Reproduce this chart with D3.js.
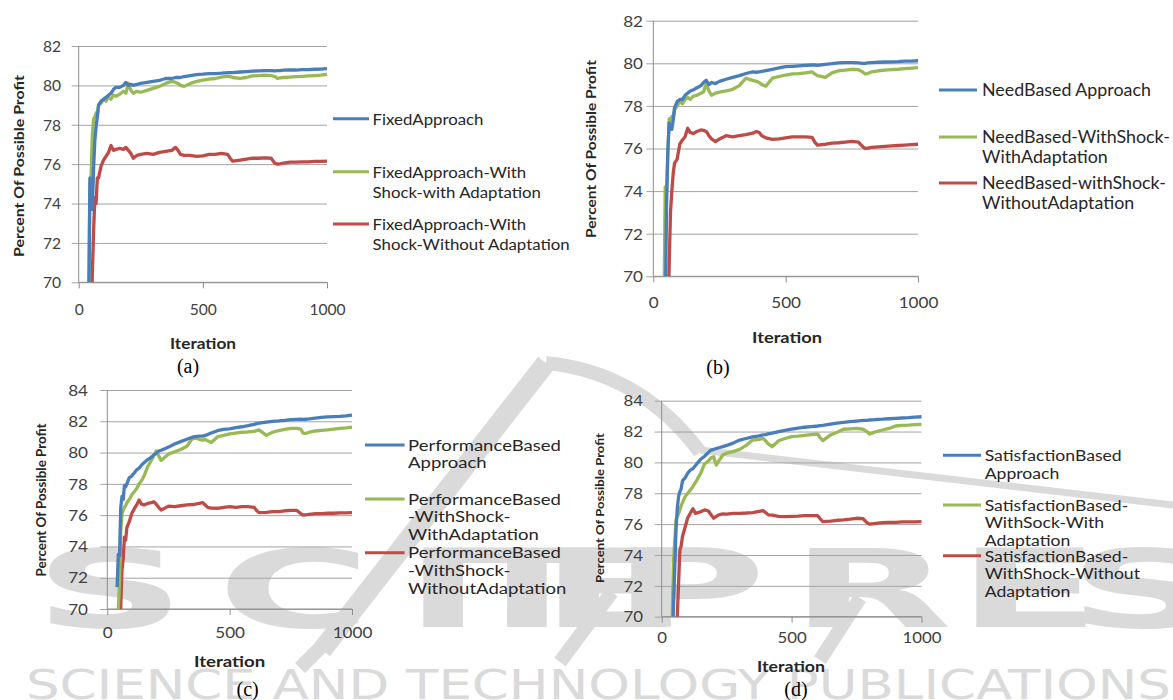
<!DOCTYPE html>
<html>
<head>
<meta charset="utf-8">
<script src="https://cdn.jsdelivr.net/npm/d3@7"></script>
<style>
  html, body { margin: 0; padding: 0; background: #fff; }
  svg { display: block; }
</style>
</head>
<body>
<svg id="chart" width="1173" height="700"></svg>
<script>
// ---------------- DATA ----------------
const iterations = [40,45,50,55,60,65,70,75,80,90,100,110,120,130,140,150,165,180,190,200,210,220,235,250,275,300,325,350,375,390,400,410,425,450,475,500,525,550,575,600,610,620,650,675,700,725,750,775,790,800,810,825,850,875,900,925,950,975,1000];

const xTicks = [0, 500, 1000];
const yTicksAB = [70, 72, 74, 76, 78, 80, 82];
const yTicksCD = [70, 72, 74, 76, 78, 80, 82, 84];

// (a) Fixed approach
const fixedApproach = [68,75.3,74.6,73.7,75.8,77.2,77.9,78.4,79.0,79.2,79.3,79.4,79.5,79.6,79.8,79.9,79.9,80.0,80.15,80.0,80.05,80.0,80.05,80.1,80.15,80.2,80.25,80.35,80.35,80.4,80.4,80.4,80.45,80.5,80.55,80.57,80.6,80.6,80.62,80.65,80.65,80.65,80.68,80.7,80.72,80.74,80.75,80.75,80.74,80.75,80.75,80.77,80.78,80.78,80.8,80.8,80.82,80.83,80.85];
const fixedShockAdapt = [68,74.7,75.5,77.5,78.3,78.4,78.6,78.5,79.0,79.1,79.3,79.2,79.4,79.3,79.5,79.45,79.55,79.7,79.6,80.1,79.75,79.6,79.7,79.65,79.75,79.85,79.95,80.1,80.2,80.15,80.1,80.0,79.95,80.1,80.2,80.27,80.32,80.35,80.42,80.47,80.45,80.4,80.36,80.4,80.48,80.5,80.52,80.5,80.45,80.36,80.38,80.4,80.42,80.44,80.46,80.48,80.5,80.52,80.56];
const fixedShockNoAdapt = [66,66,67,70.5,72.6,74.3,74.0,75.3,75.3,75.9,76.2,76.4,76.6,76.95,76.7,76.75,76.8,76.75,76.85,76.7,76.55,76.3,76.45,76.5,76.55,76.5,76.6,76.65,76.7,76.85,76.7,76.5,76.45,76.45,76.4,76.42,76.5,76.5,76.55,76.5,76.3,76.15,76.2,76.25,76.3,76.3,76.32,76.3,76.05,76.0,76.02,76.05,76.1,76.1,76.12,76.12,76.14,76.14,76.15];

// (b) Need based
const needApproach = [66,68,73.3,75.9,77.2,77.0,76.9,77.3,77.9,78.2,78.3,78.3,78.5,78.6,78.7,78.75,78.85,78.95,79.1,79.2,79.0,79.1,79.05,79.15,79.25,79.34,79.42,79.52,79.6,79.58,79.6,79.62,79.66,79.72,79.78,79.84,79.86,79.88,79.9,79.92,79.92,79.9,79.95,79.98,80.02,80.03,80.03,80.02,80.0,80.0,80.02,80.03,80.05,80.06,80.07,80.08,80.1,80.1,80.12];
const needShockAdapt = [68,74.2,74.0,75.8,77.4,77.3,77.5,77.4,77.8,78.0,78.2,78.1,78.3,78.4,78.3,78.45,78.5,78.6,78.65,79.05,78.7,78.5,78.6,78.65,78.7,78.78,78.95,79.3,79.2,79.15,79.1,79.0,78.93,79.3,79.38,79.45,79.5,79.52,79.55,79.6,79.5,79.42,79.34,79.55,79.65,79.68,79.72,79.7,79.6,79.5,79.52,79.6,79.65,79.68,79.7,79.72,79.75,79.77,79.8];
const needShockNoAdapt = [65,65,66,68,70.5,73.0,74.0,74.8,75.3,75.5,76.2,76.4,76.55,76.95,76.75,76.7,76.8,76.87,76.85,76.8,76.6,76.45,76.32,76.45,76.6,76.55,76.6,76.65,76.72,76.8,76.75,76.6,76.5,76.43,76.45,76.5,76.55,76.55,76.55,76.52,76.3,76.16,76.2,76.25,76.27,76.3,76.33,76.3,76.1,76.0,76.02,76.05,76.08,76.1,76.12,76.14,76.16,76.18,76.2];

// (c) Performance based
const perfApproach = [71.4,73.5,73.4,76.5,77.2,77.0,77.9,77.8,78.0,78.4,78.5,78.7,78.9,79.0,79.2,79.35,79.55,79.7,79.85,79.95,80.1,80.15,80.25,80.35,80.55,80.7,80.85,81.0,81.05,81.05,81.1,81.15,81.25,81.4,81.48,81.52,81.6,81.65,81.72,81.8,81.85,81.88,81.95,82.0,82.02,82.06,82.1,82.12,82.13,82.12,82.13,82.15,82.2,82.25,82.28,82.3,82.32,82.35,82.4];
const perfShockAdapt = [67,70.0,71.6,75.0,76.1,76.3,76.5,76.6,76.8,77.0,77.3,77.5,77.7,78.0,78.2,78.5,79.1,79.5,79.8,80.1,79.8,79.5,79.7,79.9,80.05,80.2,80.4,80.95,80.85,80.8,80.85,80.75,80.65,81.0,81.1,81.2,81.25,81.3,81.32,81.35,81.4,81.45,81.1,81.3,81.4,81.48,81.55,81.55,81.5,81.25,81.22,81.3,81.38,81.42,81.45,81.5,81.55,81.58,81.62];
const perfShockNoAdapt = [66,66,67,70.2,72.5,73.2,74.6,74.4,75.2,75.6,76.1,76.4,76.65,76.97,76.7,76.65,76.75,76.8,76.86,76.7,76.5,76.33,76.45,76.58,76.55,76.6,76.65,76.68,76.75,76.8,76.65,76.5,76.45,76.44,76.5,76.54,76.5,76.55,76.55,76.5,76.3,76.16,76.18,76.22,76.22,76.28,76.3,76.3,76.1,76.0,76.02,76.05,76.1,76.1,76.12,76.12,76.14,76.15,76.16];

// (d) Satisfaction based
const satApproach = [67,70.5,73.0,75.6,77.0,77.8,78.1,78.3,78.8,79.0,79.3,79.5,79.6,79.8,80.0,80.2,80.4,80.65,80.8,80.85,80.9,80.95,81.02,81.1,81.25,81.45,81.55,81.65,81.72,81.78,81.8,81.85,81.9,82.0,82.08,82.15,82.22,82.28,82.32,82.36,82.38,82.4,82.48,82.55,82.6,82.64,82.68,82.72,82.73,82.75,82.76,82.78,82.8,82.83,82.86,82.88,82.9,82.93,82.96];
const satShockAdapt = [69.5,73.5,74.8,76.27,76.5,76.7,76.92,77.2,77.4,77.78,78.0,78.2,78.43,78.7,79.0,79.29,79.9,80.1,80.3,80.37,79.83,80.1,80.48,80.6,80.7,80.85,81.1,81.45,81.5,81.56,81.4,81.2,81.02,81.4,81.55,81.67,81.7,81.75,81.8,81.84,81.6,81.41,81.78,81.95,82.15,82.18,82.2,82.15,82.0,81.84,81.9,82.0,82.1,82.2,82.36,82.4,82.42,82.45,82.47];
const satShockNoAdapt = [66,66,66,67,70,72.2,74.3,74.6,75.2,75.8,76.4,76.7,77.0,76.7,76.75,76.8,76.92,76.85,76.6,76.38,76.5,76.6,76.66,76.65,76.7,76.7,76.72,76.75,76.82,76.87,76.75,76.6,76.58,76.5,76.48,76.5,76.52,76.55,76.55,76.55,76.35,76.16,76.2,76.25,76.27,76.32,76.38,76.35,76.1,76.0,76.02,76.05,76.1,76.12,76.12,76.14,76.15,76.15,76.16];

const legendA = [["FixedApproach"], ["FixedApproach-With", "Shock-with Adaptation"], ["FixedApproach-With", "Shock-Without Adaptation"]];
const legendB = [["NeedBased Approach"], ["NeedBased-WithShock-", "WithAdaptation"], ["NeedBased-withShock-", "WithoutAdaptation"]];
const legendC = [["PerformanceBased", "Approach"], ["PerformanceBased", "-WithShock-", "WithAdaptation"], ["PerformanceBased", "-WithShock-", "WithoutAdaptation"]];
const legendD = [["SatisfactionBased", "Approach"], ["SatisfactionBased-", "WithSock-With", "Adaptation"], ["SatisfactionBased-", "WithShock-Without", "Adaptation"]];

const yTitle = "Percent Of Possible Profit";
const xTitle = "Iteration";
const captions = ["(a)", "(b)", "(c)", "(d)"];
const watermarkWord = "SCITEPRESS";
const watermarkLine = "SCIENCE AND TECHNOLOGY PUBLICATIONS";

// ---------------- STYLE ----------------
const colors = ["#4A7EBB", "#98B954", "#BE4B48"];
const FONT = "Lato, 'Open Sans', sans-serif";
const svg = d3.select("#chart");

// Watermark (background decoration)
const wm = svg.append("g").attr("class", "watermark");
const wmGray = "#dadada";
[
  { d: "M 322 650 L 546 363", w: 20 },
  { d: "M 546 363 Q 640 372 700 452", w: 14 },
  { d: "M 700 450 L 1173 505", w: 7 },
  { d: "M 300 668 L 350 618", w: 14 },
  { d: "M 560 662 L 612 592", w: 14 },
  { d: "M 820 660 L 860 598", w: 14 }
].forEach(s => wm.append("path").attr("d", s.d).attr("fill", "none")
  .attr("stroke", wmGray).attr("stroke-width", s.w).attr("stroke-linecap", "butt"));

// one text element, each glyph placed at its start (positions divided by the horizontal stretch)
const wmSx = 1.95;
const letterStarts = [34, 217, 404, 455, 540, 612, 790, 957, 1068, 1210];
wm.append("text")
  .attr("x", letterStarts.map(v => (v / wmSx).toFixed(1)).join(" "))
  .attr("y", 627)
  .attr("transform", `scale(${wmSx},1)`)
  .attr("font-family", "'DejaVu Sans', sans-serif").attr("font-weight", "bold")
  .attr("font-size", 108)
  .attr("fill", wmGray)
  .text(watermarkWord);
wm.append("text")
  .attr("x", 26).attr("y", 699)
  .attr("font-family", "'DejaVu Sans', sans-serif")
  .attr("font-size", 40)
  .attr("textLength", 1145).attr("lengthAdjust", "spacingAndGlyphs")
  .attr("fill", wmGray)
  .text(watermarkLine);

// Panel layout
const panels = [
  { id: "a", series: [fixedApproach, fixedShockAdapt, fixedShockNoAdapt], legend: legendA, yTicks: yTicksAB,
    x0: 78.7, x1: 327, yTop: 46, yBot: 282.3, tickFont: 15, tickSx: 1.04, yLabRight: 61, xLabY: 310,
    titleX: 19, titleY: 166, titleFont: 13.5, titleLen: 182, iterX: 203, iterY: 343, iterLen: 66, capX: 188, capY: 366,
    legLine: [333, 369], legText: 372.6, legRows: [118.7, 171.7, 224], legSpacing: 20, legFont: 16, legLen: 111 },
  { id: "b", series: [needApproach, needShockAdapt, needShockNoAdapt], legend: legendB, yTicks: yTicksAB,
    x0: 653.3, x1: 918, yTop: 20.7, yBot: 276.3, tickFont: 15, tickSx: 1.14, yLabRight: 643, xLabY: 303,
    titleX: 590.5, titleY: 149, titleFont: 13.5, titleLen: 178, iterX: 787, iterY: 337, iterLen: 70, capX: 718, capY: 367,
    legLine: [939, 977], legText: 982, legRows: [90, 137, 183], legSpacing: 20, legFont: 16.5, legLen: 169 },
  { id: "c", series: [perfApproach, perfShockAdapt, perfShockNoAdapt], legend: legendC, yTicks: yTicksCD,
    x0: 107.3, x1: 352, yTop: 390, yBot: 609, tickFont: 14.5, tickSx: 1.18, yLabRight: 88, xLabY: 633,
    titleX: 41, titleY: 500, titleFont: 12.5, titleLen: 153, iterX: 229.6, iterY: 660.7, iterLen: 71.5, capX: 247.6, capY: 689,
    legLine: [365, 404.6], legText: 408, legRows: [445, 499, 552.7], legSpacing: 17.6, legFont: 15, legLen: 153 },
  { id: "d", series: [satApproach, satShockAdapt, satShockNoAdapt], legend: legendD, yTicks: yTicksCD,
    x0: 661.7, x1: 921.5, yTop: 400.7, yBot: 616.7, tickFont: 14.5, tickSx: 1.16, yLabRight: 643, xLabY: 638,
    titleX: 599.5, titleY: 508, titleFont: 12, titleLen: 150, iterX: 791, iterY: 666.7, iterLen: 68, capX: 796, capY: 689,
    legLine: [943, 981], legText: 984.7, legRows: [455.3, 505, 555.7], legSpacing: 17.5, legFont: 15, legLen: 137 }
];

panels.forEach((p, pi) => {
  const g = svg.append("g").attr("class", "panel-" + p.id);
  const x = d3.scaleLinear().domain([0, 1000]).range([p.x0, p.x1]);
  const y = d3.scaleLinear().domain([70, d3.max(p.yTicks)]).range([p.yBot, p.yTop]);

  // gridlines + y labels via axis
  const yAxis = d3.axisLeft(y).tickValues(p.yTicks).tickSize(0).tickPadding(0).tickFormat(d3.format("d"));
  const yg = g.append("g").attr("transform", `translate(${p.x0},0)`).call(yAxis);
  yg.select(".domain").remove();
  yg.selectAll(".tick line").attr("x1", -7).attr("x2", p.x1 - p.x0).attr("stroke", "#a3a3a3").attr("stroke-width", 1);
  yg.selectAll(".tick text")
    .attr("x", (p.yLabRight - p.x0) / p.tickSx).attr("dy", "0.36em")
    .attr("transform", `scale(${p.tickSx},1)`)
    .attr("font-family", FONT).attr("font-size", p.tickFont).attr("fill", "#404040").attr("text-anchor", "end");

  // y axis line
  g.append("line").attr("x1", p.x0).attr("x2", p.x0).attr("y1", p.yTop).attr("y2", p.yBot)
    .attr("stroke", "#8c8c8c").attr("stroke-width", 1);

  // x axis
  const xAxis = d3.axisBottom(x).tickValues(xTicks).tickSize(6).tickPadding(0).tickFormat(d3.format("d"));
  const xg = g.append("g").attr("transform", `translate(0,${p.yBot})`).call(xAxis);
  xg.select(".domain").attr("stroke", "#8c8c8c").attr("d", `M${p.x0},0H${p.x1}`);
  xg.selectAll(".tick line").attr("stroke", "#8c8c8c");
  xg.selectAll(".tick text")
    .attr("y", p.xLabY - p.yBot).attr("dy", "0.36em")
    .attr("transform", `scale(${p.tickSx},1)`)
    .attr("font-family", FONT).attr("font-size", p.tickFont).attr("fill", "#404040");

  // clip
  const clipId = "clip-" + p.id;
  g.append("clipPath").attr("id", clipId).append("rect")
    .attr("x", p.x0).attr("y", p.yTop - 10).attr("width", p.x1 - p.x0 + 3).attr("height", p.yBot - p.yTop + 10);

  const line = d3.line().x((d, i) => x(iterations[i])).y(d => y(d));
  [2, 1, 0].forEach(si => {
    g.append("path")
      .datum(p.series[si])
      .attr("clip-path", `url(#${clipId})`)
      .attr("fill", "none")
      .attr("stroke", colors[si])
      .attr("stroke-width", 3.3)
      .attr("stroke-linejoin", "round")
      .attr("d", line);
  });

  // helper: horizontal stretch so a text's length matches a target
  function fitText(sel, target) {
    const len = sel.node().getComputedTextLength();
    return len > 0 ? target / len : 1;
  }

  // y title
  const yt = g.append("text")
    .attr("text-anchor", "middle").attr("dominant-baseline", "central")
    .attr("font-family", FONT).attr("font-weight", "bold").attr("font-size", p.titleFont).attr("fill", "#262626")
    .text(yTitle);
  const ysx = fitText(yt, p.titleLen);
  yt.attr("transform", `translate(${p.titleX},${p.titleY}) rotate(-90) scale(${ysx},1)`);

  // x title
  const xt = g.append("text")
    .attr("text-anchor", "middle").attr("dominant-baseline", "central")
    .attr("font-family", FONT).attr("font-weight", "bold").attr("font-size", 15.5).attr("fill", "#262626")
    .text(xTitle);
  const xsx = fitText(xt, p.iterLen);
  xt.attr("transform", `translate(${p.iterX},${p.iterY}) scale(${xsx},1)`);

  // caption
  g.append("text")
    .attr("x", p.capX).attr("y", p.capY)
    .attr("text-anchor", "middle").attr("dominant-baseline", "central")
    .attr("font-family", "'Liberation Serif', 'Times New Roman', serif").attr("font-size", 20).attr("fill", "#000")
    .text(captions[pi]);

  // legend
  let legSx = null;
  p.legend.forEach((lines, li) => {
    const ry = p.legRows[li];
    g.append("line").attr("x1", p.legLine[0]).attr("x2", p.legLine[1]).attr("y1", ry).attr("y2", ry)
      .attr("stroke", colors[li]).attr("stroke-width", 3);
    const t = g.append("text")
      .attr("font-family", FONT).attr("font-size", p.legFont).attr("fill", "#262626");
    lines.forEach((s, k) => {
      t.append("tspan").attr("x", 0).attr("y", k * p.legSpacing)
        .attr("dominant-baseline", "central").text(s);
    });
    if (legSx === null) {
      legSx = p.legLen / t.select("tspan").node().getComputedTextLength();
    }
    t.attr("transform", `translate(${p.legText},${ry}) scale(${legSx},1)`);
  });
});
</script>
</body>
</html>
